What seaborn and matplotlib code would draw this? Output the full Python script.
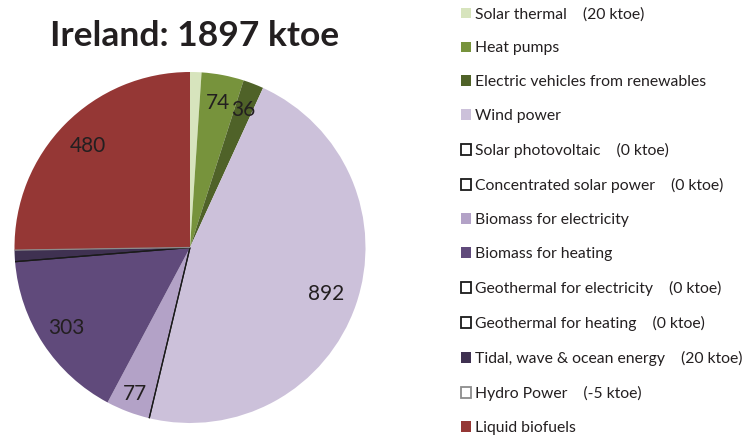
import numpy as np
import matplotlib
matplotlib.use("Agg")
import matplotlib.pyplot as plt
from matplotlib.patches import Patch
import seaborn as sns

# Renewable energy contributions, in ktoe
categories = [
    "Solar thermal", "Heat pumps", "Electric vehicles from renewables",
    "Wind power", "Solar photovoltaic", "Concentrated solar power",
    "Biomass for electricity", "Biomass for heating",
    "Geothermal for electricity", "Geothermal for heating",
    "Tidal, wave & ocean energy", "Hydro Power", "Liquid biofuels",
]
values = [20, 74, 36, 892, 0, 0, 77, 303, 0, 0, 20, -5, 480]
colors = [
    "#d7e4bd", "#77933c", "#4f6228", "#ccc1da", "#ffffff", "#ffffff",
    "#b3a2c7", "#604a7b", "#ffffff", "#ffffff", "#3f3151", "#ffffff", "#953735",
]
# categories whose value is also spelled out next to the legend entry
legend_notes = {
    "Solar thermal": "(20 ktoe)",
    "Solar photovoltaic": "(0 ktoe)",
    "Concentrated solar power": "(0 ktoe)",
    "Geothermal for electricity": "(0 ktoe)",
    "Geothermal for heating": "(0 ktoe)",
    "Tidal, wave & ocean energy": "(20 ktoe)",
    "Hydro Power": "(-5 ktoe)",
}
labelled = ["Heat pumps", "Electric vehicles from renewables", "Wind power",
            "Biomass for electricity", "Biomass for heating", "Liquid biofuels"]
title = "Ireland: 1897 ktoe"

sns.set_theme(style="white")
plt.rcParams["font.family"] = ["Lato", "DejaVu Sans"]
text_color = "#231f20"

W, H = 752, 437
fig = plt.figure(figsize=(W / 100, H / 100), dpi=100)
fig.patch.set_facecolor("white")

# pie axes: circle of radius ~175 px centred at (190, 247)
cx, cy, r = 190, 247.5, 175.5
ax = fig.add_axes([(cx - r) / W, (H - cy - r) / H, 2 * r / W, 2 * r / H])

drawn = [max(v, 0) for v in values]
wedges, _ = ax.pie(drawn, colors=colors, startangle=90, counterclock=False,
                   radius=1, wedgeprops=dict(linewidth=0))
ax.set_xlim(-1, 1)
ax.set_ylim(-1, 1)
ax.set_aspect("equal")
ax.axis("off")

# radial placement of the value labels inside their slices
label_radius = {"Wind power": 0.82, "Liquid biofuels": 0.82,
                "Biomass for electricity": 0.89}
for w, name, v in zip(wedges, categories, values):
    if v <= 0:
        w.set_edgecolor("#8c8c8c" if v < 0 else "#1a1a1a")
        w.set_linewidth(0.9)
        w.set_zorder(5)
    if name in labelled:
        mid = np.deg2rad((w.theta1 + w.theta2) / 2)
        rr = label_radius.get(name, 0.84)
        ax.text(rr * np.cos(mid), rr * np.sin(mid), f"{v}", ha="center",
                va="center", fontsize=15, color=text_color)

fig.text(195 / W, 1 - 36 / H, title, ha="center", va="center",
         fontsize=25.5, fontweight="bold", color=text_color)

# legend with square keys; zero/negative entries get hollow keys
handles, labels = [], []
for name, v, c in zip(categories, values, colors):
    if v > 0:
        h = Patch(facecolor=c, edgecolor="none")
    else:
        h = Patch(facecolor="white", edgecolor="#8c8c8c" if v < 0 else "#1a1a1a",
                  linewidth=1.3)
    handles.append(h)
    lab = name
    if name in legend_notes:
        lab = name + "    " + legend_notes[name]
    labels.append(lab)

leg = fig.legend(handles, labels, loc="upper left",
                 bbox_to_anchor=(461 / W, 1 - 7 / H), frameon=False,
                 fontsize=11.3, handlelength=0.65, handleheight=0.65,
                 handletextpad=0.25, labelspacing=1.27, borderaxespad=0,
                 borderpad=0)
for t in leg.get_texts():
    t.set_color(text_color)

fig.savefig("out.png", dpi=100, facecolor="white")
